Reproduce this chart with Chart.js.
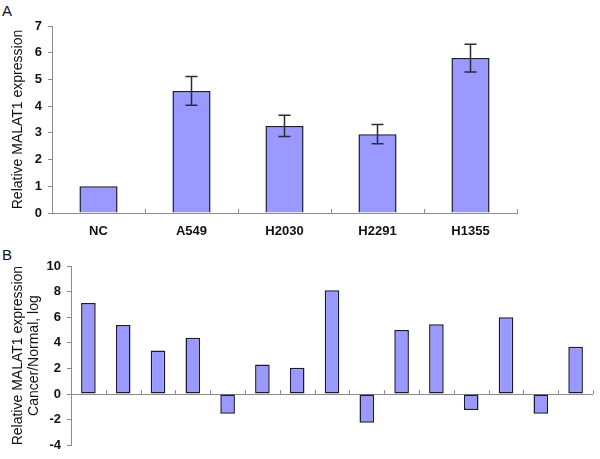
<!DOCTYPE html>
<html>
<head>
<meta charset="utf-8">
<script src="https://cdn.jsdelivr.net/npm/chart.js@4.4.0/dist/chart.umd.min.js"></script>
<style>
  body { margin: 0; background: #fff; width: 600px; height: 459px; position: relative; overflow: hidden; }
  .panel { position: absolute; left: 0; width: 600px; }
  .tag { position: absolute; font: 15px Arial, 'Liberation Sans', sans-serif; color: #111; }
</style>
</head>
<body>
  <div class="tag" style="left:2px; top:2px;">A</div>
  <div class="tag" style="left:2px; top:246px;">B</div>
  <div class="panel" style="top:0; height:250px;"><canvas id="chartA" width="600" height="250"></canvas></div>
  <div class="panel" style="top:240px; height:219px;"><canvas id="chartB" width="600" height="219"></canvas></div>
<script>
    // panel A: cell lines vs normal control
    const cellLines = ['NC', 'A549', 'H2030', 'H2291', 'H1355'];
    const cellValues = [1, 4.57, 3.26, 2.95, 5.8];
    const cellErrors = [0, 0.54, 0.4, 0.36, 0.52];
    const ticksA = [0, 1, 2, 3, 4, 5, 6, 7];

    // panel B: tumour / normal pairs, log ratio
    const samples = ['1', '2', '3', '4', '5', '6', '7', '8', '9', '10', '11', '12', '13', '14', '15'];
    const sampleValues = [7.1, 5.4, 3.4, 4.4, -1.55, 2.3, 2.05, 8.1, -2.25, 5.0, 5.45, -1.25, 6.0, -1.55, 3.7];
    const ticksB = [-4, -2, 0, 2, 4, 6, 8, 10];

    const FONT = 'Arial, "Liberation Sans", sans-serif';
    const AXIS = '#8c8c8c';
    const BAR = '#9999ff';
    const EDGE = '#1a1a33';

    Chart.defaults.font.family = FONT;
    Chart.defaults.color = '#111';
    Chart.defaults.animation = false;

    // error bars, placed with the y scale
    const errorBars = {
      id: 'errorBars',
      afterDatasetsDraw(chart, args, opts) {
        if (!opts.errors) return;
        const ctx = chart.ctx;
        const y = chart.scales.y;
        const vals = chart.data.datasets[0].data;
        chart.getDatasetMeta(0).data.forEach((bar, i) => {
          const e = opts.errors[i];
          if (!e) return;
          const top = y.getPixelForValue(vals[i] + e);
          const bot = y.getPixelForValue(vals[i] - e);
          ctx.save();
          ctx.strokeStyle = '#2a2a3a';
          ctx.lineWidth = 1.5;
          ctx.beginPath();
          ctx.moveTo(bar.x, top); ctx.lineTo(bar.x, bot);
          ctx.moveTo(bar.x - 6, top); ctx.lineTo(bar.x + 6, top);
          ctx.moveTo(bar.x - 6, bot); ctx.lineTo(bar.x + 6, bot);
          ctx.stroke();
          ctx.restore();
        });
      }
    };

    // short inward ticks between categories, on the zero line
    const catTicks = {
      id: 'catTicks',
      afterDraw(chart) {
        const ctx = chart.ctx;
        const area = chart.chartArea;
        const n = chart.data.labels.length;
        const base = chart.scales.y.getPixelForValue(0);
        ctx.save();
        ctx.strokeStyle = AXIS;
        ctx.lineWidth = 1;
        ctx.beginPath();
        for (let i = 1; i <= n; i++) {
          const x = Math.round(area.left + i * (area.right - area.left) / n) + 0.5;
          ctx.moveTo(x, base);
          ctx.lineTo(x, base - 4);
        }
        ctx.stroke();
        ctx.restore();
      }
    };

    function yScale(min, max, step, tickList, width, title, pad) {
      return {
        min: min,
        max: max,
        afterFit: (scale) => { scale.width = width; },
        afterBuildTicks: (scale) => { scale.ticks = tickList.map(v => ({ value: v })); },
        ticks: { stepSize: step, padding: 6, font: { size: 13, weight: 'bold' }, color: '#111' },
        grid: {
          drawOnChartArea: true,
          color: (c) => (c.tick && c.tick.value === 0 && min < 0) ? AXIS : 'rgba(0,0,0,0)',
          tickColor: AXIS,
          tickLength: 4
        },
        border: { display: true, color: AXIS, width: 1 },
        title: { display: true, text: title, font: { size: 14, lineHeight: 1.15 }, color: '#111', padding: { top: pad, bottom: 0 } }
      };
    }

    new Chart(document.getElementById('chartA'), {
      type: 'bar',
      data: {
        labels: cellLines,
        datasets: [{
          data: cellValues,
          backgroundColor: BAR,
          borderColor: EDGE,
          borderWidth: 1.5,
          categoryPercentage: 1,
          barPercentage: 0.41
        }]
      },
      options: {
        responsive: false,
        layout: { padding: { left: 0, right: 83, top: 26, bottom: 0 } },
        plugins: { legend: { display: false }, tooltip: { enabled: false }, errorBars: { errors: cellErrors } },
        scales: {
          x: {
            afterFit: (scale) => { scale.height = 37; },
            grid: { display: false, drawTicks: false },
            border: { display: true, color: AXIS, width: 1 },
            ticks: { padding: 11, font: { size: 13, weight: 'bold' }, color: '#111' }
          },
          y: yScale(0, 7, 1, ticksA, 52, 'Relative MALAT1 expression', 10)
        }
      },
      plugins: [errorBars, catTicks]
    });

    new Chart(document.getElementById('chartB'), {
      type: 'bar',
      data: {
        labels: samples,
        datasets: [{
          data: sampleValues,
          backgroundColor: BAR,
          borderColor: EDGE,
          borderWidth: 1.5,
          borderSkipped: false,
          categoryPercentage: 1,
          barPercentage: 0.42
        }]
      },
      options: {
        responsive: false,
        layout: { padding: { left: 0, right: 7, top: 26, bottom: 1 } },
        plugins: { legend: { display: false }, tooltip: { enabled: false } },
        scales: {
          x: { display: false },
          y: yScale(-4, 10, 2, ticksB, 71, ['Relative MALAT1 expression', 'Cancer/Normal, log'], 10)
        }
      },
      plugins: [catTicks]
    });
</script>
</body>
</html>
